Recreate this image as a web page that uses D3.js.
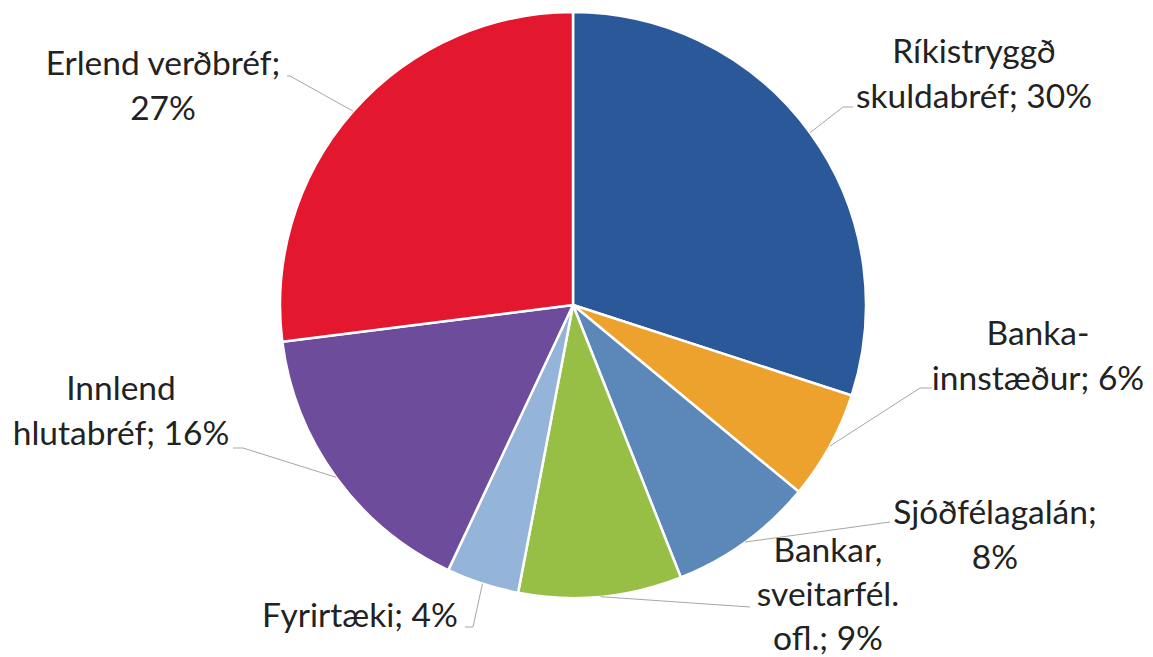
<!DOCTYPE html>
<html>
<head>
<meta charset="utf-8">
<script src="https://cdn.jsdelivr.net/npm/d3@7"></script>
<style>
  html, body { margin: 0; padding: 0; background: #ffffff; }
  svg { display: block; }
  text { font-family: Lato, "Open Sans", sans-serif; fill: #222; }
</style>
</head>
<body>
<svg id="chart" width="1153" height="657"></svg>
<script>
// ---- data ----
const categories = [
  "Ríkistryggð skuldabréf",
  "Bankainnstæður",
  "Sjóðfélagalán",
  "Bankar, sveitarfél. ofl.",
  "Fyrirtæki",
  "Innlend hlutabréf",
  "Erlend verðbréf"
];
const values = [30, 6, 8, 9, 4, 16, 27];
const labelLines = [
  ["Ríkistryggð", "skuldabréf; 30%"],
  ["Banka-", "innstæður; 6%"],
  ["Sjóðfélagalán;", "8%"],
  ["Bankar,", "sveitarfél.", "ofl.; 9%"],
  ["Fyrirtæki; 4%"],
  ["Innlend", "hlutabréf; 16%"],
  ["Erlend verðbréf;", "27%"]
];

// ---- styles / layout ----
const colors = ["#2a5899", "#eea22e", "#5b88b9", "#97bf46", "#94b5d9", "#6d4c9b", "#e3172d"];
const cx = 573, cy = 305, radius = 293;
const fontSize = 33.5, lineHeight = 44.5;
// label block: text center x, first baseline y, leader elbow (x,y), horizontal end x
const labelLayout = [
  { x: 974, y: 63,  ex: 843, ey: 107, hx: 853 },
  { x: 1038, y: 345, ex: 920, ey: 388, hx: 932 },
  { x: 995, y: 524, ex: 890, ey: 522, hx: 890 },
  { x: 828, y: 562, ex: 750, ey: 607, hx: 750 },
  { x: 360, y: 627, ex: 473, ey: 627, hx: 465 },
  { x: 121, y: 400, ex: 243, ey: 448, hx: 233 },
  { x: 163, y: 75,  ex: 290, ey: 76,  hx: 287 }
];

const svg = d3.select("#chart");
const g = svg.append("g").attr("transform", `translate(${cx},${cy})`);

const pie = d3.pie().sort(null).value(d => d)(values);
const arc = d3.arc().innerRadius(0).outerRadius(radius);

g.selectAll("path.slice")
  .data(pie)
  .join("path")
  .attr("class", "slice")
  .attr("d", arc)
  .attr("fill", (d, i) => colors[i])
  .attr("stroke", "#ffffff")
  .attr("stroke-width", 2.5)
  .attr("stroke-linejoin", "round");

// leader lines
pie.forEach((d, i) => {
  const a = (d.startAngle + d.endAngle) / 2;
  const sx = cx + radius * Math.sin(a);
  const sy = cy - radius * Math.cos(a);
  const L = labelLayout[i];
  svg.append("polyline")
    .attr("points", `${sx},${sy} ${L.ex},${L.ey} ${L.hx},${L.ey}`)
    .attr("fill", "none")
    .attr("stroke", "#a6a6a6")
    .attr("stroke-width", 1);
});

// labels
labelLines.forEach((lines, i) => {
  const L = labelLayout[i];
  const t = svg.append("text")
    .attr("text-anchor", "middle")
    .attr("font-size", fontSize);
  lines.forEach((ln, j) => {
    t.append("tspan")
      .attr("x", L.x)
      .attr("y", L.y + j * (i === 3 ? 44 : lineHeight))
      .text(ln);
  });
});
</script>
</body>
</html>
